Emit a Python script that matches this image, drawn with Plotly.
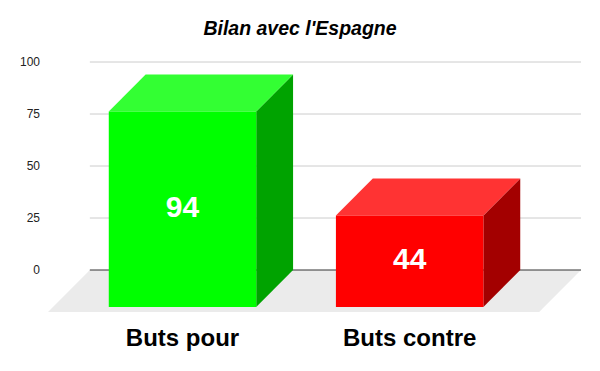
import plotly.graph_objects as go

# ---- data ----
categories = ["Buts pour", "Buts contre"]
values = [94, 44]
front_colors = ["#00ff00", "#ff0000"]
top_colors = ["#33ff33", "#ff3333"]
side_colors = ["#00a300", "#a30000"]
y_ticks = [0, 25, 50, 75, 100]
title = "Bilan avec l'Espagne"

# ---- geometry ----
# the page body has an 8px margin, so the figure is sized to fill the rest
OFF = 8
W, H = 600 - OFF, 371 - OFF
L, R, T, B = 44 - OFF, 584 - OFF, 50 - OFF, 313 - OFF   # plot area in px
px_x = 228.0                            # px per category unit
px_y = 2.08                             # px per value unit
x0_px, y0_px = 218.0 - OFF, 270.0 - OFF # pixel of (category 0 back-centre, value 0)
xr = [(L - x0_px) / px_x, (R - x0_px) / px_x]
yr = [(y0_px - B) / px_y, (y0_px - T) / px_y]

half_w = 74 / px_x
dx = 37 / px_x
dy = 37 / px_y
floor_dx = 42 / px_x
floor_dy = 42 / px_y
grid_x0 = (88 - OFF - x0_px) / px_x
grid_x1 = (581 - OFF - x0_px) / px_x

fig = go.Figure()

# floor
fig.add_trace(go.Scatter(
    x=[grid_x0, grid_x1, grid_x1 - floor_dx, grid_x0 - floor_dx, grid_x0],
    y=[0, 0, -floor_dy, -floor_dy, 0],
    fill="toself", fillcolor="#ebebeb", line=dict(width=0), mode="lines",
    hoverinfo="skip", showlegend=False))

# gridlines
for t in y_ticks[1:]:
    fig.add_trace(go.Scatter(x=[grid_x0, grid_x1], y=[t, t], mode="lines",
                             line=dict(color="#cccccc", width=1),
                             hoverinfo="skip", showlegend=False))
fig.add_trace(go.Scatter(x=[grid_x0, grid_x1], y=[0, 0], mode="lines",
                         line=dict(color="#333333", width=1),
                         hoverinfo="skip", showlegend=False))

# bars
for i, (cat, v) in enumerate(zip(categories, values)):
    bl, br = i - half_w, i + half_w          # back face x
    fl, fr = bl - dx, br - dx                # front face x
    # side face
    fig.add_trace(go.Scatter(
        x=[fr, br, br, fr, fr], y=[v - dy, v, 0, -dy, v - dy],
        fill="toself", fillcolor=side_colors[i], line=dict(width=0),
        mode="lines", hoverinfo="skip", showlegend=False))
    # top face
    fig.add_trace(go.Scatter(
        x=[fl, bl, br, fr, fl], y=[v - dy, v, v, v - dy, v - dy],
        fill="toself", fillcolor=top_colors[i], line=dict(width=0),
        mode="lines", hoverinfo="skip", showlegend=False))
    # front face
    fig.add_trace(go.Scatter(
        x=[fl, fr, fr, fl, fl], y=[-dy, -dy, v - dy, v - dy, -dy],
        fill="toself", fillcolor=front_colors[i], line=dict(width=0),
        mode="lines", hoverinfo="skip", showlegend=False))
    # value label
    fig.add_trace(go.Scatter(
        x=[i - dx], y=[(v - 2 * dy) / 2], mode="text", text=[str(v)],
        textfont=dict(family="Arial, Liberation Sans", size=30, color="white",
                      weight="bold"),
        hoverinfo="skip", showlegend=False))

fig.update_layout(
    width=W, height=H,
    margin=dict(l=L, r=W - R, t=T, b=H - B),
    paper_bgcolor="white", plot_bgcolor="white",
    title=dict(text=title, x=(300 - OFF) / W, xanchor="center", xref="container",
               y=1 - 20 / H, yref="container", yanchor="middle",
               font=dict(family="Arial, Liberation Sans", size=19.5,
                         color="black", weight="bold", style="italic")),
    xaxis=dict(range=xr, showgrid=False, zeroline=False, showline=False,
               tickvals=[i - dx for i in range(len(categories))],
               ticktext=categories, ticks="", ticklabelstandoff=8,
               tickfont=dict(family="Arial, Liberation Sans", size=24,
                             color="black", weight="bold"),
               fixedrange=True),
    yaxis=dict(range=yr, showgrid=False, zeroline=False, showline=False,
               tickvals=y_ticks, ticks="", ticklabelstandoff=5,
               tickfont=dict(family="Arial, Liberation Sans", size=12,
                             color="#222222"),
               fixedrange=True),
)

fig.write_html("out.html")
